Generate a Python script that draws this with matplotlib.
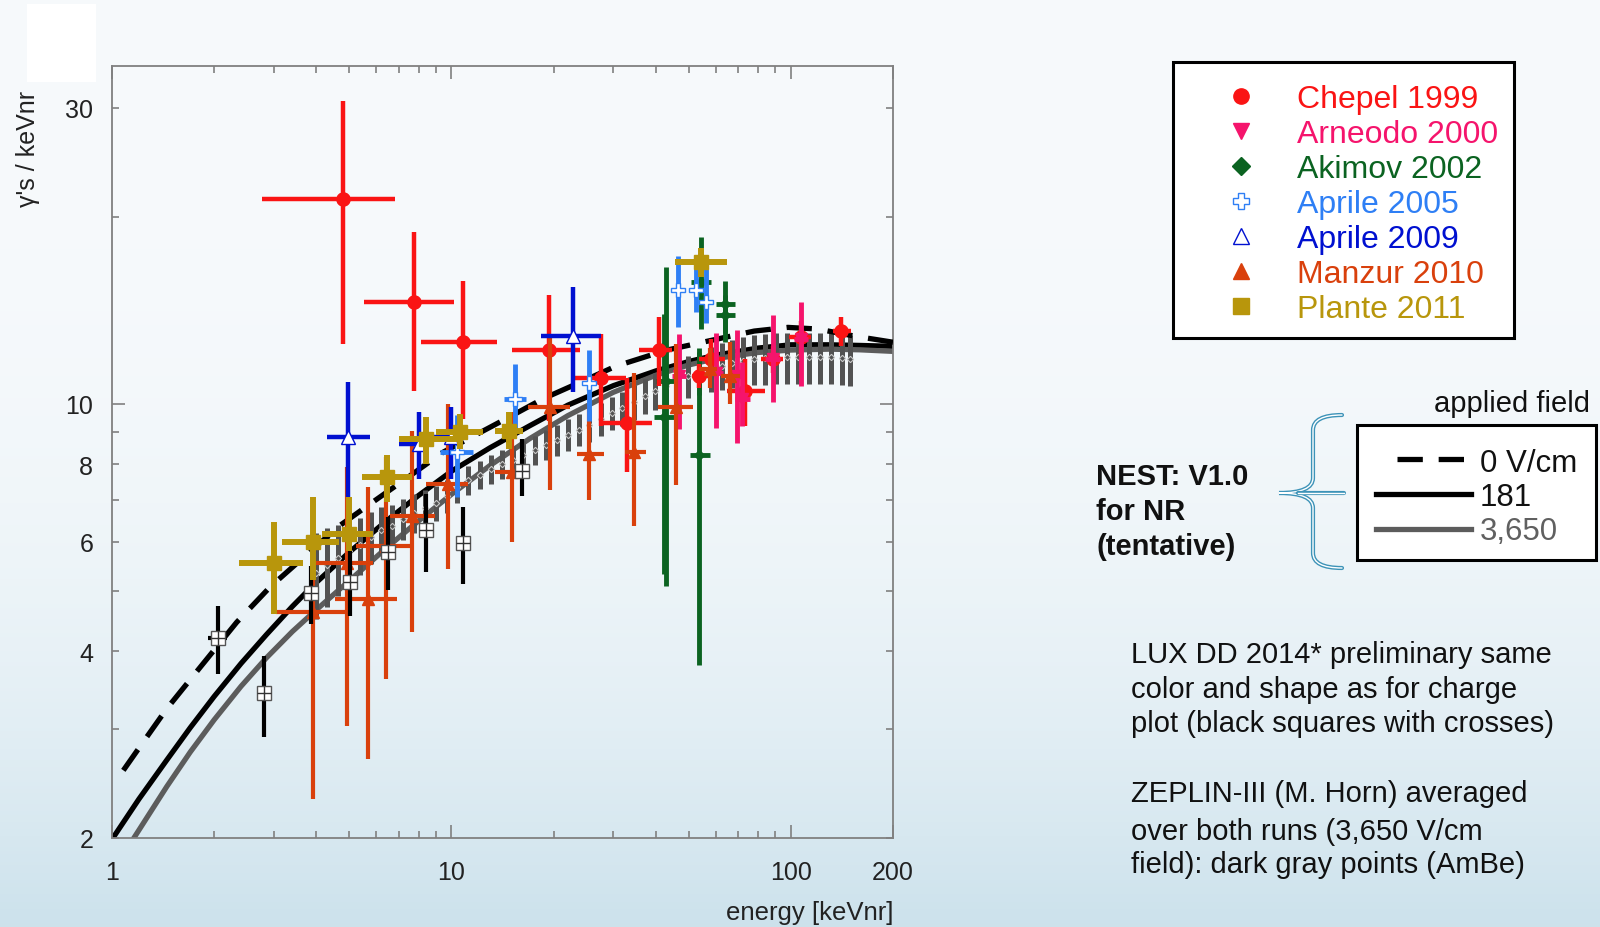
import numpy as np
import matplotlib
matplotlib.use("Agg")
import matplotlib.pyplot as plt
from matplotlib.path import Path
from matplotlib.patches import PathPatch, Rectangle
from matplotlib.ticker import FixedLocator, FixedFormatter, NullFormatter

plt.rcParams["font.family"] = ["Liberation Sans", "DejaVu Sans"]

# ---- data (energy in keVnr, yield in photons / keVnr) ----
# Chepel 1999
chep_e = [4.79, 7.78, 10.8, 19.4, 27.5, 32.9, 40.8, 53.8, 58.0, 73.5, 88.4, 107, 141]
chep_elo = [2.77, 5.51, 8.12, 15.1, 23.2, 27.3, 35.6, 51.0, 53.8, 64.8, 81.7, 99.0, 133]
chep_ehi = [6.82, 10.2, 13.6, 24.0, 32.7, 38.9, 44.8, 57.0, 63.8, 84.2, 94.8, 115, 150]
chep_y = [21.4, 14.6, 12.6, 12.2, 11.0, 9.32, 12.2, 11.1, 11.8, 10.5, 11.8, 12.8, 13.1]
chep_ylo = [12.5, 10.5, 9.46, 9.4, 9.23, 7.78, 10.7, 10.6, 11.1, 9.23, 11.2, 11.9, 12.4]
chep_yhi = [30.7, 18.9, 15.8, 15.0, 12.96, 11.0, 13.8, 11.6, 12.7, 11.8, 12.4, 13.6, 13.8]

# Arneodo 2000
arn_e = [46.8, 60.0, 69.5, 72.0, 88.4, 107]
arn_elo = [44.6, 57.2, 66.2, 68.6, 84.2, 102]
arn_ehi = [49.1, 63.0, 72.9, 75.6, 92.8, 112]
arn_y = [11.1, 11.2, 11.1, 10.2, 11.8, 12.7]
arn_ylo = [9.11, 9.14, 8.65, 9.2, 10.06, 10.7]
arn_yhi = [12.96, 13.0, 13.17, 11.7, 13.9, 14.6]

# Akimov 2002
aki_e = [42.4, 43.0, 53.8, 54.2, 64.1, 64.1]
aki_elo = [39.6, 40.2, 50.3, 50.7, 60.0, 60.0]
aki_ehi = [45.4, 46.0, 57.6, 58.0, 68.6, 68.6]
aki_y = [9.52, 10.9, 8.26, 15.7, 14.5, 13.9]
aki_ylo = [5.32, 5.09, 3.8, 13.2, 13.0, 12.6]
aki_yhi = [13.96, 16.6, 12.3, 18.6, 15.8, 15.0]

# Aprile 2005
a05_e = [10.4, 15.4, 25.4, 46.5, 52.6, 56.1]
a05_elo = [9.23, 14.3, 24.5, 45.5, 51.5, 55.0]
a05_ehi = [11.6, 16.6, 26.3, 47.5, 53.7, 57.2]
a05_y = [8.36, 10.19, 10.8, 15.25, 15.25, 14.6]
a05_ylo = [7.08, 9.1, 9.4, 13.3, 14.06, 13.5]
a05_yhi = [9.58, 11.6, 12.2, 17.3, 16.5, 16.5]

# Aprile 2009
a09_e = [4.96, 8.0, 10.0, 22.8]
a09_elo = [4.29, 7.01, 8.83, 18.4]
a09_ehi = [5.77, 8.83, 10.6, 27.5]
a09_y = [8.84, 8.62, 8.84, 12.85]
a09_ylo = [7.07, 7.57, 7.57, 10.44]
a09_yhi = [10.86, 9.70, 9.88, 15.4]

# Manzur 2010
man_e = [3.91, 4.91, 5.68, 6.41, 7.63, 9.77, 15.1, 19.5, 25.5, 34.6, 45.9, 57.6, 66.3]
man_elo = [3.05, 4.0, 4.53, 5.25, 6.58, 8.44, 13.4, 16.8, 23.4, 32.4, 40.6, 53.8, 62.3]
man_ehi = [4.91, 5.88, 6.89, 7.63, 8.93, 11.2, 16.5, 22.4, 28.1, 37.5, 51.4, 60.5, 70.6]
man_y = [4.62, 5.54, 4.85, 5.91, 6.61, 7.43, 7.78, 9.88, 8.31, 8.36, 9.88, 11.4, 11.1]
man_ylo = [2.31, 3.03, 2.68, 3.61, 4.29, 5.42, 5.99, 7.28, 7.01, 6.35, 7.39, 10.6, 10.0]
man_yhi = [7.05, 7.91, 7.34, 8.21, 9.06, 10.0, 9.71, 12.88, 9.94, 11.2, 12.5, 12.3, 12.6]

# Plante 2011
pla_e = [3.0, 3.91, 5.0, 6.48, 8.40, 10.6, 14.8, 54.4]
pla_elo = [2.37, 3.16, 4.17, 5.46, 7.01, 9.03, 13.4, 45.7]
pla_ehi = [3.66, 4.67, 5.88, 7.63, 10.6, 12.4, 16.3, 64.8]
pla_y = [5.54, 5.99, 6.18, 7.62, 8.78, 9.01, 9.06, 16.9]
pla_ylo = [4.59, 5.2, 5.80, 6.94, 8.0, 8.46, 8.46, 16.0]
pla_yhi = [6.46, 7.08, 7.08, 8.28, 9.52, 9.64, 9.70, 17.8]

# LUX DD 2014 (preliminary)
lux_e = [2.05, 2.81, 3.85, 5.02, 6.51, 8.40, 10.8, 16.1]
lux_elo = [1.92, 2.67, 3.75, 4.9, 6.35, 8.2, 10.5, 15.7]
lux_ehi = [2.18, 2.97, 3.95, 5.15, 6.67, 8.6, 11.1, 16.5]
lux_y = [4.20, 3.42, 4.96, 5.17, 5.78, 6.27, 5.97, 7.81]
lux_ylo = [3.67, 2.91, 4.42, 4.56, 5.01, 5.36, 5.13, 7.12]
lux_yhi = [4.73, 3.93, 5.49, 5.80, 6.57, 7.16, 6.82, 8.78]

# ZEPLIN-III (AmBe, 3,650 V/cm)
zep_e = [3.99, 4.29, 4.63, 4.98, 5.37, 5.79, 6.19, 6.67, 7.19, 7.74,
         8.34, 8.99, 9.69, 10.4, 11.2, 12.1, 13.1, 14.1, 15.2, 16.3,
         17.6, 19.0, 20.4, 22.0, 23.7, 25.5, 27.5, 29.7, 31.9, 34.4,
         37.1, 39.9, 43.0, 46.4, 49.9, 53.8, 58.0, 62.5, 67.3, 72.5,
         78.1, 84.2, 90.7, 97.7, 105.3, 113.4, 122.2, 131.7, 141.9, 149.8]
zep_y = [5.35, 5.51, 5.65, 5.80, 5.93, 6.11, 6.27, 6.36, 6.53, 6.68,
         6.80, 6.93, 7.11, 7.35, 7.54, 7.69, 7.86, 8.01, 8.13, 8.28,
         8.43, 8.59, 8.75, 8.92, 9.08, 9.25, 9.46, 9.67, 9.85, 10.07,
         10.30, 10.49, 10.69, 10.89, 11.09, 11.22, 11.39, 11.51, 11.64, 11.73,
         11.81, 11.86, 11.90, 11.90, 11.90, 11.90, 11.90, 11.90, 11.86, 11.81]
zep_err = [0.85, 0.80, 0.74, 0.68, 0.62, 0.58, 0.56, 0.52, 0.50, 0.48,
           0.46, 0.44, 0.43, 0.42, 0.40, 0.40, 0.42, 0.43, 0.44, 0.45,
           0.46, 0.48, 0.50, 0.52, 0.54, 0.56, 0.58, 0.60, 0.62, 0.65,
           0.68, 0.72, 0.76, 0.80, 0.85, 0.90, 0.95, 1.00, 1.05, 1.08,
           1.10, 1.12, 1.12, 1.12, 1.12, 1.12, 1.12, 1.12, 1.12, 1.12]

# NEST v1.0 NR curves
nest0_e = [1.08, 1.25, 1.45, 1.8, 2.33, 2.92, 3.6, 4.69, 6.0, 7.5, 9.45, 12, 15,
           18.6, 24, 30.5, 42.9, 60, 78, 98, 120, 155, 200]
nest0_y = [2.57, 2.88, 3.23, 3.74, 4.45, 5.07, 5.61, 6.37, 7.01, 7.64, 8.36, 8.96, 9.56,
           10.19, 10.84, 11.5, 12.2, 12.7, 13.1, 13.28, 13.2, 12.85, 12.57]
nest181_e = [1.0, 1.2, 1.45, 1.7, 2.0, 2.4, 2.85, 3.4, 3.91, 5, 6.5, 8, 10, 13, 17,
             22, 30, 40, 50, 60, 80, 100, 130, 160, 200]
nest181_y = [1.99, 2.31, 2.67, 3.01, 3.38, 3.82, 4.25, 4.72, 5.10, 5.77, 6.51, 7.12,
             7.79, 8.50, 9.22, 9.95, 10.70, 11.30, 11.70, 11.98, 12.30, 12.45, 12.45,
             12.42, 12.38]
nest3650_e = [1.16, 1.45, 1.7, 2.0, 2.4, 2.85, 3.4, 3.91, 5, 6.5, 8, 10, 13, 17, 22,
              30, 40, 50, 60, 80, 100, 130, 160, 200]
nest3650_y = [2.0, 2.42, 2.75, 3.10, 3.51, 3.90, 4.30, 4.61, 5.19, 5.89, 6.48, 7.15,
              7.96, 8.79, 9.57, 10.44, 11.12, 11.55, 11.83, 12.10, 12.21, 12.25, 12.22,
              12.15]

C_CHEP = "#fa1414"
C_ARN = "#f5146c"
C_AKI = "#0b6321"
C_A05 = "#2e7ff5"
C_A09 = "#0010d0"
C_MAN = "#d9400c"
C_PLA = "#b8960c"
C_ZEP = "#525252"
C_N3650 = "#5c5c5c"

W, H = 1600, 928
fig = plt.figure(figsize=(16, 9.28), dpi=100)

# soft slide background
bg = fig.add_axes([0, 0, 1, 1])
t = np.linspace(0, 1, 256)[:, None]
top = np.array([0.968, 0.980, 0.988])
bot = np.array([0.80, 0.885, 0.925])
grad = top + (bot - top) * (t ** 3)[..., None]
bg.imshow(grad, aspect="auto", extent=[0, 1, 0, 1])
bg.axis("off")

ax = fig.add_axes([112 / W, 1 - 839 / H, 781 / W, 772 / H])
ax.set_facecolor("none")
ax.set_xscale("log")
ax.set_yscale("log")


def errpts(e, elo, ehi, y, ylo, yhi, ecol, lw, z, **mk):
    e = np.asarray(e, float)
    y = np.asarray(y, float)
    xerr = [e - np.asarray(elo), np.asarray(ehi) - e]
    yerr = [y - np.asarray(ylo), np.asarray(yhi) - y]
    ax.errorbar(e, y, xerr=xerr, yerr=yerr, fmt="none", ecolor=ecol,
                elinewidth=lw, capsize=0, zorder=z)
    ax.plot(e, y, linestyle="none", zorder=z + 0.1, **mk)


# NEST curves
ax.plot(nest181_e, nest181_y, color="black", lw=3.8, zorder=2)
ax.plot(nest3650_e, nest3650_y, color=C_N3650, lw=3.8, zorder=2)
ax.plot(nest0_e, nest0_y, color="black", lw=3.8, dashes=(4.8, 3.0), zorder=3.5)

# ZEPLIN-III band
ax.errorbar(zep_e, zep_y, yerr=zep_err, fmt="none", ecolor=C_ZEP, elinewidth=3.6,
            capsize=0, zorder=3)
ax.plot(zep_e, zep_y, linestyle="none", marker="D", ms=3.2, mfc="none",
        mec="#c8c8c8", mew=0.8, zorder=3.2)

errpts(aki_e, aki_elo, aki_ehi, aki_y, aki_ylo, aki_yhi, C_AKI, 3.5, 4,
       marker="D", ms=5, color=C_AKI)
errpts(chep_e, chep_elo, chep_ehi, chep_y, chep_ylo, chep_yhi, C_CHEP, 3.2, 5,
       marker="o", ms=9.5, color=C_CHEP)
errpts(arn_e, arn_elo, arn_ehi, arn_y, arn_ylo, arn_yhi, C_ARN, 3.5, 5.5,
       marker="v", ms=9, color=C_ARN)
errpts(man_e, man_elo, man_ehi, man_y, man_ylo, man_yhi, C_MAN, 3.0, 6,
       marker="^", ms=8, color=C_MAN)
errpts(lux_e, lux_elo, lux_ehi, lux_y, lux_ylo, lux_yhi, "black", 3.0, 7,
       marker="s", ms=10, mfc="white", mec="#555555", mew=1.0)
ax.plot(lux_e, lux_y, linestyle="none", marker="+", ms=10, mew=1.0,
        color="#333333", zorder=7.2)
errpts(a05_e, a05_elo, a05_ehi, a05_y, a05_ylo, a05_yhi, C_A05, 3.5, 8,
       marker="P", ms=10, mfc="white", mec=C_A05, mew=1.0)
errpts(a09_e, a09_elo, a09_ehi, a09_y, a09_ylo, a09_yhi, C_A09, 3.2, 8,
       marker="^", ms=10, mfc="white", mec=C_A09, mew=1.0)
errpts(pla_e, pla_elo, pla_ehi, pla_y, pla_ylo, pla_yhi, C_PLA, 4.3, 9,
       marker="s", ms=10.5, color=C_PLA)

ax.set_xlim(1, 200)
ax.set_ylim(2, 35)

ax.xaxis.set_major_locator(FixedLocator([1, 10, 100, 200]))
ax.xaxis.set_major_formatter(FixedFormatter(["1", "10", "100", "200"]))
ax.xaxis.set_minor_locator(FixedLocator([2, 3, 4, 5, 6, 7, 8, 9, 20, 30, 40, 50, 60, 70, 80, 90]))
ax.xaxis.set_minor_formatter(NullFormatter())
ax.yaxis.set_major_locator(FixedLocator([10]))
ax.yaxis.set_major_formatter(FixedFormatter(["10"]))
ax.yaxis.set_minor_locator(FixedLocator([2, 3, 4, 5, 6, 7, 8, 9, 20, 30]))
ax.yaxis.set_minor_formatter(FixedFormatter(["2", "", "4", "", "6", "", "8", "", "", "30"]))

ax.tick_params(which="both", direction="in", top=True, right=True,
               color="#808080", width=1.2, labelsize=18, labelcolor="#222222")
ax.tick_params(which="major", length=9.5)
ax.tick_params(which="minor", length=5)
ax.tick_params(axis="y", which="both", pad=13.5)
ax.tick_params(axis="x", which="both", pad=16)
for sp in ax.spines.values():
    sp.set_color("#808080")
    sp.set_linewidth(1.3)

# ---- overlay in pixel coordinates for annotations ----
ov = fig.add_axes([0, 0, 1, 1], facecolor="none")
ov.set_xlim(0, W)
ov.set_ylim(H, 0)
ov.axis("off")

ov.add_patch(Rectangle((27, 5), 69, 78, fc="white", ec="none"))
ov.text(28, 149, "γ's / keVnr", rotation=90, ha="center", va="center",
        fontsize=18, color="#222222")
ov.text(893, 913, "energy [keVnr]", ha="right", va="center", fontsize=18.5,
        color="#222222")

# data legend
ov.add_patch(Rectangle((1173, 63), 341, 276, fc="white", ec="black", lw=2.2))
legend_rows = [
    ("Chepel 1999", C_CHEP, dict(marker="o", ms=11, color=C_CHEP)),
    ("Arneodo 2000", C_ARN, dict(marker="v", ms=11, color=C_ARN)),
    ("Akimov 2002", C_AKI, dict(marker="D", ms=9, color=C_AKI)),
    ("Aprile 2005", C_A05, dict(marker="P", ms=12, mfc="white", mec=C_A05, mew=1.0)),
    ("Aprile 2009", C_A09, dict(marker="^", ms=12, mfc="white", mec=C_A09, mew=1.0)),
    ("Manzur 2010", C_MAN, dict(marker="^", ms=12, color=C_MAN)),
    ("Plante 2011", C_PLA, dict(marker="s", ms=11, color=C_PLA)),
]
for i, (lab, col, mk) in enumerate(legend_rows):
    ym = 96.7 + 35 * i
    ov.plot([1241], [ym], linestyle="none", **mk)
    ov.text(1297, ym + 11.5, lab, color=col, fontsize=23, ha="left", va="baseline")

# NEST legend
ov.add_patch(Rectangle((1357, 426), 239, 135, fc="white", ec="black", lw=2.2))
ov.text(1434, 412, "applied field", fontsize=21, ha="left", va="baseline", color="#111111")
ov.plot([1397, 1467], [460, 460], color="black", lw=3.8, dashes=(4.8, 3.0))
ov.plot([1376, 1471], [494.5, 494.5], color="black", lw=3.8)
ov.plot([1376, 1471], [529.5, 529.5], color=C_N3650, lw=3.8)
ov.text(1480, 472, "0 V/cm", fontsize=22.5, ha="left", va="baseline", color="#111111")
ov.text(1480, 506, "181", fontsize=22.5, ha="left", va="baseline", color="#111111")
ov.text(1480, 540, "3,650", fontsize=22.5, ha="left", va="baseline", color="#606060")

for txt, yb in [("NEST: V1.0", 485.5), ("for NR", 520), ("(tentative)", 555)]:
    ov.text(1096, yb, txt, fontsize=21, fontweight="bold", ha="left", va="baseline",
            color="#111111")

# curly brace
verts = [(1342, 416), (1313, 416), (1313, 431), (1313, 479), (1313, 494), (1279, 494),
         (1313, 494), (1313, 509), (1313, 554), (1313, 569), (1342, 569)]
codes = [Path.MOVETO, Path.CURVE3, Path.CURVE3, Path.LINETO, Path.CURVE3, Path.CURVE3,
         Path.CURVE3, Path.CURVE3, Path.LINETO, Path.CURVE3, Path.CURVE3]
brace = Path(verts, codes)
ov.add_patch(PathPatch(brace, fc="none", ec="#3d93b8", lw=3.0, capstyle="round"))
ov.add_patch(PathPatch(brace, fc="none", ec="white", lw=1.0, capstyle="round"))
ov.plot([1298, 1344], [494, 494], color="#3d93b8", lw=3.0, solid_capstyle="round")
ov.plot([1298, 1344], [494, 494], color="white", lw=1.0)

notes = [
    ("LUX DD 2014* preliminary same", 663),
    ("color and shape as for charge", 698),
    ("plot (black squares with crosses)", 732),
    ("ZEPLIN-III (M. Horn) averaged", 802),
    ("over both runs (3,650 V/cm", 840),
    ("field): dark gray points (AmBe)", 873),
]
for txt, yb in notes:
    ov.text(1131, yb, txt, fontsize=21, ha="left", va="baseline", color="#111111")

fig.savefig("out.png", dpi=100)
